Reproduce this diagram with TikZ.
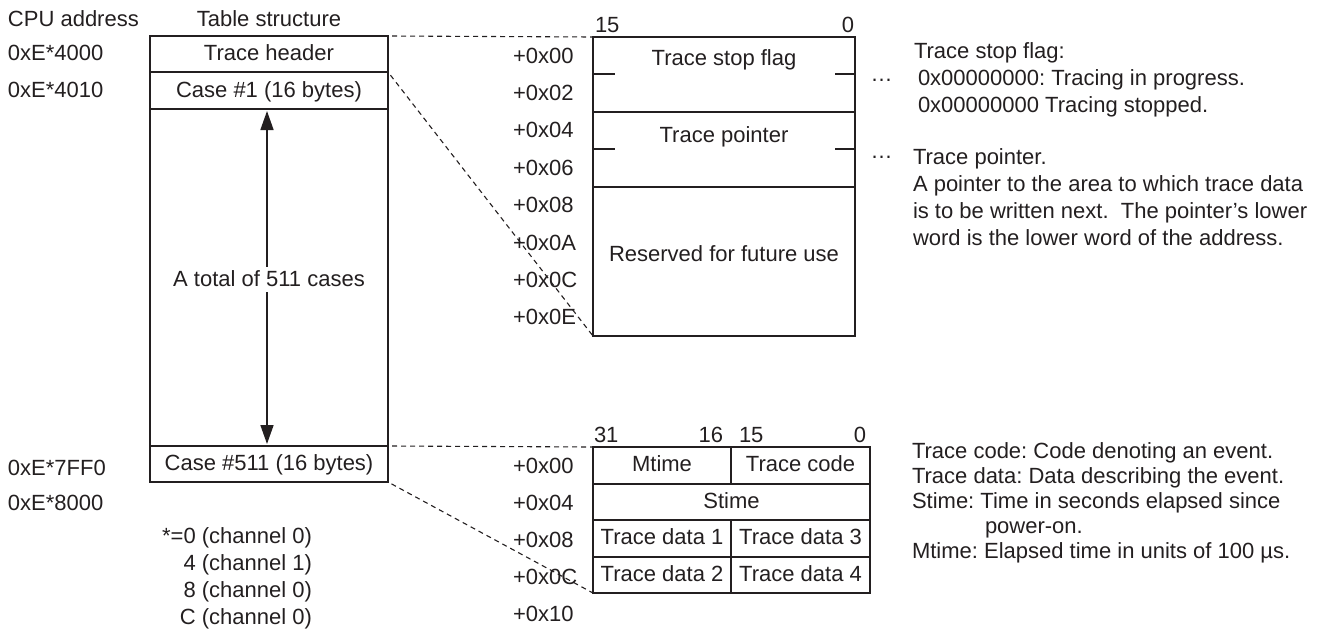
\documentclass[tikz,border=0pt]{standalone}
\usepackage{fontspec}
\setmainfont{Liberation Sans}
\usetikzlibrary{arrows.meta}
\definecolor{ink}{RGB}{35,31,32}
\frenchspacing
\begin{document}
\begin{tikzpicture}[x=1pt,y=-1pt,
  every node/.style={inner sep=0pt, outer sep=0pt, text=ink, font=\fontsize{22}{27}\selectfont\frenchspacing},
  cell/.style={draw=ink, line width=2pt, text height=16pt, text depth=3pt},
  lbl/.style={anchor=base west},
  lblr/.style={anchor=base east},
  lblc/.style={anchor=base},
  guide/.style={draw=ink, line width=1.1pt, dash pattern=on 5pt off 4pt, shorten <=4pt},
  tick/.style={draw=ink, line width=2pt},
]
\useasboundingbox (0,0) rectangle (1329,629);

% headings
\node[lbl] (cpuh) at (8,27) {CPU address};
\node[lblc] (tabh) at (269,27) {Table structure};

% CPU addresses
\node[lbl] (a1) at (8,60) {0xE*4000};
\node[lbl] (a2) at (8,97) {0xE*4010};
\node[lbl] (a3) at (8,475) {0xE*7FF0};
\node[lbl] (a4) at (8,510) {0xE*8000};

% channel notes
\node[lblr] (ch1) at (312,543) {*=0 (channel 0)};
\node[lblr] (ch2) at (312,570) {4 (channel 1)};
\node[lblr] (ch3) at (312,597) {8 (channel 0)};
\node[lblr] (ch4) at (312,624) {C (channel 0)};

% left table
\node[cell, minimum width=238pt, minimum height=36pt] (hdr) at (269,54) {Trace header};
\node[cell, minimum width=238pt, minimum height=37pt] (c1) at (269,90.5) {Case \#1 (16 bytes)};
\node[cell, minimum width=238pt, minimum height=337pt] (body) at (269,277.5) {};
\node[cell, minimum width=238pt, minimum height=36pt] (c511) at (269,464) {Case \#511 (16 bytes)};
\draw[ink, line width=1.6pt, {Triangle[length=19pt,width=13pt]}-{Triangle[length=19pt,width=13pt]},
      shorten >=2pt, shorten <=2pt] ([xshift=-2pt]body.north) -- ([xshift=-2pt]body.south);
\node[fill=white, inner sep=3pt, text height=16pt, text depth=3pt] (tot) at (269,279.5) {A total of 511 cases};

% top structure
\node[lbl] (b15) at (595,32) {15};
\node[lblr] (b0) at (854,32) {0};
\node[cell, minimum width=262pt, minimum height=74.75pt] (sf) at (724,74.375) {};
\node[cell, minimum width=262pt, minimum height=74.75pt] (tp) at (724,149.125) {};
\node[cell, minimum width=262pt, minimum height=149.5pt] (rv) at (724,261.25) {};
\node[lblc] (sft) at (724,65) {Trace stop flag};
\node[lblc] (tpt) at (724,142) {Trace pointer};
\node[lblc] (rvt) at (724,261) {Reserved for future use};
\draw[tick] (sf.west) -- ++(22,0);
\draw[tick] (sf.east) -- ++(-20,0);
\draw[tick] (tp.west) -- ++(22,0);
\draw[tick] (tp.east) -- ++(-20,0);

% top offsets
\node[lbl] (o00) at (513,63) {+0x00};
\node[lbl] (o02) at (513,100.4) {+0x02};
\node[lbl] (o04) at (513,137.8) {+0x04};
\node[lbl] (o06) at (513,175.2) {+0x06};
\node[lbl] (o08) at (513,212.6) {+0x08};
\node[lbl] (o0A) at (513,250) {+0x0A};
\node[lbl] (o0C) at (513,287.4) {+0x0C};
\node[lbl] (o0E) at (513,324.8) {+0x0E};

% dots and explanations (top)
\node[lblc] (dots1) at (881.5,81.5) {…};
\node[lblc] (dots2) at (881.5,158.5) {…};
\node[lbl] (e1) at (914,58) {Trace stop flag:};
\node[lbl] (e2) at (918,85) {0x00000000: Tracing in progress.};
\node[lbl] (e3) at (918,112) {0x00000000 Tracing stopped.};
\node[lbl] (e4) at (913,164) {Trace pointer.};
\node[lbl] (e5) at (913,191) {A pointer to the area to which trace data};
\node[lbl] (e6) at (913,218) {is to be written next.~ The pointer’s lower};
\node[lbl] (e7) at (913,245) {word is the lower word of the address.};

% bottom structure
\node[lbl] (b31) at (594,442) {31};
\node[lblr] (b16) at (723,442) {16};
\node[lbl] (b15b) at (739,442) {15};
\node[lblr] (b0b) at (866,442) {0};
\node[cell, minimum width=138pt, minimum height=36.5pt] (mt) at (662,465.25) {Mtime};
\node[cell, minimum width=139pt, minimum height=36.5pt] (tc) at (800.5,465.25) {Trace code};
\node[cell, minimum width=277pt, minimum height=36.5pt] (st) at (731.5,501.75) {Stime};
\node[cell, minimum width=138pt, minimum height=36.5pt] (d1) at (662,538.25) {Trace data 1};
\node[cell, minimum width=139pt, minimum height=36.5pt] (d3) at (800.5,538.25) {Trace data 3};
\node[cell, minimum width=138pt, minimum height=36.5pt] (d2) at (662,574.75) {Trace data 2};
\node[cell, minimum width=139pt, minimum height=36.5pt] (d4) at (800.5,574.75) {Trace data 4};

% bottom offsets
\node[lbl] (p00) at (513,473) {+0x00};
\node[lbl] (p04) at (513,510) {+0x04};
\node[lbl] (p08) at (513,547) {+0x08};
\node[lbl] (p0C) at (513,584) {+0x0C};
\node[lbl] (p10) at (513,621) {+0x10};

% explanations (bottom)
\node[lbl] (f1) at (912,458) {Trace code: Code denoting an event.};
\node[lbl] (f2) at (912,483) {Trace data: Data describing the event.};
\node[lbl] (f3) at (912,508) {Stime: Time in seconds elapsed since};
\node[lbl] (f4) at (985,533) {power-on.};
\node[lbl] (f5) at (912,558) {Mtime: Elapsed time in units of 100 µs.};

% zoom guides
\draw[guide] (hdr.north east) -- (sf.north west);
\draw[guide] (hdr.south east) -- (rv.south west);
\draw[guide] (c511.north east) -- (mt.north west);
\draw[guide] (c511.south east) -- (d2.south west);
\end{tikzpicture}
\end{document}
